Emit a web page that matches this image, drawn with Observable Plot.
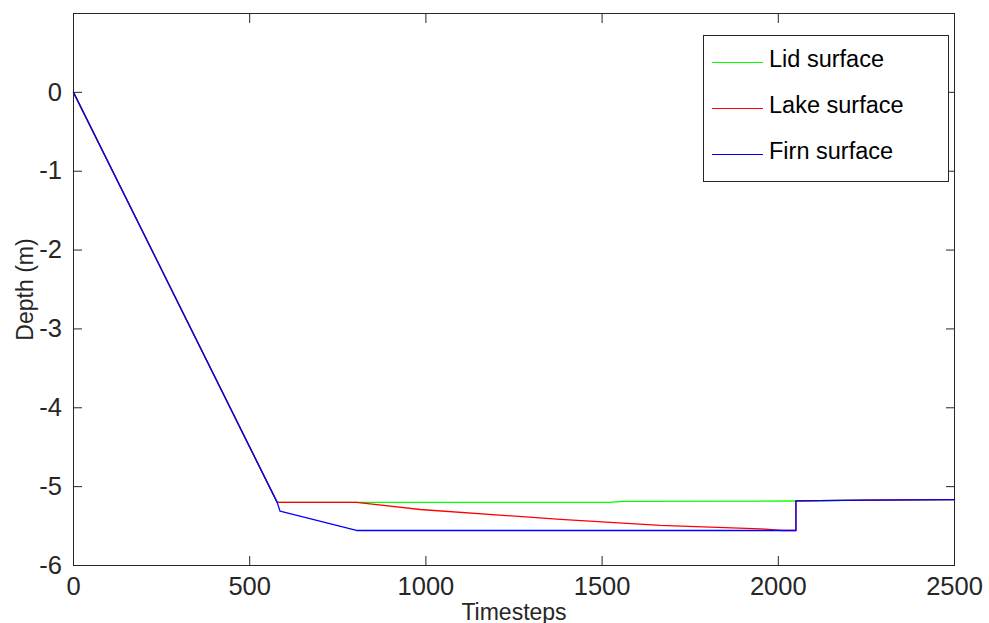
<!DOCTYPE html>
<html><head><meta charset="utf-8">
<script src="https://cdn.jsdelivr.net/npm/d3@7"></script>
<script src="https://cdn.jsdelivr.net/npm/@observablehq/plot@0.6"></script>
<style>
html,body{margin:0;padding:0;background:#fff;}
#wrap{position:relative;width:989px;height:623px;overflow:hidden;font-family:"Liberation Sans",Arial,sans-serif;}
#legend{position:absolute;left:703px;top:35px;width:246px;height:147px;border:1px solid #262626;background:#fff;box-sizing:border-box;}
.item{position:absolute;left:8px;height:30px;display:flex;align-items:center;font-size:23.5px;color:#000;white-space:nowrap;}
.item .sw{width:51px;height:0;border-top:1.3px solid;margin-right:6px;}
.item .lb{position:relative;top:-3px;}
</style>
</head><body>
<div id="wrap"><div id="chart"></div><div id="legend"></div></div>
<script>
const xTicks = [0, 500, 1000, 1500, 2000, 2500];
const yTicks = [-6, -5, -4, -3, -2, -1, 0];
const seriesNames = ["Lid surface", "Lake surface", "Firn surface"];
const seriesColors = ["#00ff00", "#ff0000", "#0000ff"];

const lidX = [0, 578, 803, 1520, 1560, 2050, 2250, 2500];
const lidY = [0, -5.2, -5.2, -5.2, -5.186, -5.182, -5.172, -5.165];

const lakeX = [0, 578, 803, 984, 1382, 1665, 1950, 2011, 2050, 2050, 2250, 2500];
const lakeY = [0, -5.2, -5.2, -5.29, -5.415, -5.49, -5.535, -5.556, -5.556, -5.18, -5.172, -5.165];

const firnX = [0, 578, 586, 803, 2050, 2050, 2250, 2500];
const firnY = [0, -5.2, -5.31, -5.556, -5.556, -5.18, -5.172, -5.165];

const data = [
  ...lidX.map((x, i) => ({x, y: lidY[i], s: seriesNames[0]})),
  ...lakeX.map((x, i) => ({x, y: lakeY[i], s: seriesNames[1]})),
  ...firnX.map((x, i) => ({x, y: firnY[i], s: seriesNames[2]}))
];

const fmt = d => String(d);

const chart = Plot.plot({
  width: 989, height: 623,
  marginLeft: 73, marginRight: 35, marginTop: 13, marginBottom: 58,
  style: {fontFamily: "'Liberation Sans', Arial, sans-serif", fontSize: "25.5px", color: "#262626", background: "white"},
  x: {domain: [0, 2500]},
  y: {domain: [-6, 1]},
  color: {domain: seriesNames, range: seriesColors},
  marks: [
    Plot.line(data, {x: "x", y: "y", z: "s", stroke: "s", strokeWidth: 1.3}),
    Plot.frame({stroke: "#262626", strokeWidth: 1}),
    Plot.axisX(xTicks, {anchor: "bottom", tickSize: 0, tickPadding: 11, label: null, fontSize: 25.5, tickFormat: fmt}),
    Plot.axisX(xTicks, {anchor: "bottom", tickSize: 9, dy: -9, fill: "none", label: null}),
    Plot.axisX(xTicks, {anchor: "top", tickSize: 9, dy: 9, fill: "none", label: null}),
    Plot.axisY(yTicks, {anchor: "left", tickSize: 0, tickPadding: 11.5, label: null, fontSize: 25.5, tickFormat: fmt}),
    Plot.axisY(yTicks, {anchor: "left", tickSize: 9, dx: 9, fill: "none", label: null}),
    Plot.axisY(yTicks, {anchor: "right", tickSize: 9, dx: -9, fill: "none", label: null}),
    Plot.text(["Timesteps"], {text: d => d, frameAnchor: "bottom", textAnchor: "middle", dy: 54, fontSize: 23, fill: "#262626"}),
    Plot.text(["Depth (m)"], {text: d => d, frameAnchor: "left", textAnchor: "middle", lineAnchor: "middle", rotate: -90, dx: -47.5, fontSize: 23, fill: "#262626"})
  ]
});
document.getElementById("chart").appendChild(chart);

const legend = document.getElementById("legend");
const tops = [11, 57, 103];
seriesNames.forEach((name, i) => {
  const it = document.createElement("div");
  it.className = "item";
  it.style.top = tops[i] + "px";
  const sw = document.createElement("span");
  sw.className = "sw";
  sw.style.borderTopColor = seriesColors[i];
  const lb = document.createElement("span");
  lb.className = "lb";
  lb.textContent = name;
  it.appendChild(sw); it.appendChild(lb);
  legend.appendChild(it);
});
</script>
</body></html>
